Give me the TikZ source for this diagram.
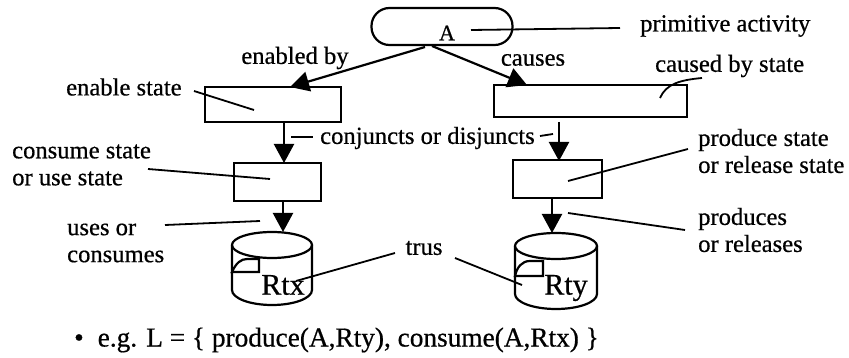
\documentclass[tikz,border=0pt]{standalone}
\usepackage{fontspec}
\setmainfont[FakeBold=0.6]{Liberation Serif}
\usetikzlibrary{arrows.meta}
\tikzset{
  lab/.style={font=\fontsize{24.6}{27}\selectfont, inner sep=0pt, align=left},
  statebox/.style={draw, line width=2.2pt, inner sep=0pt},
  link/.style={line width=2.2pt, -{Triangle[length=19pt,width=20pt]}},
  lead/.style={line width=1.8pt}
}
\begin{document}
\begin{tikzpicture}[x=1pt,y=-1pt]
      \useasboundingbox (0,0) rectangle (849,358);

      \node[draw, line width=2.2pt, rounded corners=18pt, minimum width=141pt, minimum height=37pt] (act) at (442,26.5) {};
      \node[lab, font=\fontsize{22}{24}\selectfont] (actname) at (447,33) {A};

      \node[statebox, minimum width=136pt, minimum height=35pt] (enable) at (273,104.5) {};
      \node[statebox, minimum width=193pt, minimum height=32pt] (caused) at (590.5,101) {};
      \node[statebox, minimum width=87pt, minimum height=38pt] (consume) at (277.5,182) {};
      \node[statebox, minimum width=89pt, minimum height=38pt] (produce) at (557.5,179) {};

      \foreach \x/\y/\r/\h in {272/245/40/45, 556/246/41/48} {
        \draw[line width=2.2pt] (\x,\y) ellipse [x radius=\r pt, y radius=13pt];
        \draw[line width=2.2pt] (\x-\r,\y) -- (\x-\r,\y+\h)
          arc [start angle=180, end angle=360, x radius=\r pt, y radius=15pt] -- (\x+\r,\y);
      }
      \node[lab, font=\fontsize{30}{32}\selectfont] (rtxname) at (283,285) {Rtx};
      \node[lab, font=\fontsize{30}{32}\selectfont] (rtyname) at (566,288) {Rty};

      \draw[line width=2.2pt] (232,272) .. controls (236,263) and (241,259) .. (247,259) -- (259,259) -- (259,272) -- cycle;
      \draw[line width=2.2pt] (515,276) .. controls (517,267) and (522,261) .. (530,261) -- (543,261) -- (543,276) -- cycle;

      \coordinate (actl) at (425,47);
      \coordinate (enablet) at (290,87);
      \coordinate (actr) at (432,46);
      \coordinate (causedt) at (527,85);
      \coordinate (causedb) at (559,122);
      \coordinate (producet) at (559,161);
      \coordinate (enableb) at (284,122);
      \coordinate (consumet) at (284,163);
      \coordinate (consumeb) at (283,201);
      \coordinate (rtxt) at (283,232);
      \coordinate (produceb) at (552,198);
      \coordinate (rtyt) at (552,233);

      \foreach \a/\b in {actl/enablet, actr/causedt, enableb/consumet, causedb/producet, consumeb/rtxt, produceb/rtyt}
        \draw[link] (\a) -- (\b);

      \node[lab, anchor=west] (labact) at (640,26) {primitive activity};
      \node[lab] (labenabled) at (295,58) {enabled by};
      \node[lab] (labcauses) at (533,60) {causes};
      \node[lab, anchor=west] (labcaused) at (655,66) {caused by state};
      \node[lab, anchor=west] (labenable) at (66,87) {enable state};
      \node[lab, anchor=west] (labconj) at (320,138) {conjuncts or disjuncts};
      \node[lab, anchor=west] (labconsume) at (12,165) {consume state\\or use state};
      \node[lab, anchor=west] (labuses) at (67,243) {uses or\\consumes};
      \node[lab] (labtrus) at (424,248) {trus};
      \node[lab, anchor=west] (labproduce) at (698,151) {produce state\\or release state};
      \node[lab, anchor=west] (labproduces) at (698,230) {produces\\or releases};
      \node[lab, anchor=west, font=\fontsize{27.3}{30}\selectfont] (labeg) at (74,340) {\textbullet\hspace{14pt}e.g. L = \{ produce(A,Rty), consume(A,Rtx) \}};

      \coordinate (c1) at (471,30);   \coordinate (c2) at (620,28);
      \coordinate (c3) at (194,91);   \coordinate (c4) at (254,110);
      \coordinate (c5) at (148,169);  \coordinate (c6) at (270,179);
      \coordinate (c7) at (165,225);  \coordinate (c8) at (260,221);
      \coordinate (c9) at (291,137);  \coordinate (c10) at (313,137);
      \coordinate (c11) at (540,136); \coordinate (c12) at (553,134);
      \coordinate (c13) at (688,149); \coordinate (c14) at (568,181);
      \coordinate (c15) at (568,213); \coordinate (c16) at (685,230);
      \coordinate (c17) at (395,253); \coordinate (c18) at (296,281);
      \coordinate (c19) at (455,258); \coordinate (c20) at (522,285);
      \coordinate (c21) at (702,78);  \coordinate (c22) at (660,98);

      \foreach \a/\b in {c1/c2, c3/c4, c5/c6, c7/c8, c9/c10, c11/c12, c13/c14, c15/c16, c17/c18, c19/c20}
        \draw[lead] (\a) -- (\b);
      \draw[lead] (c21) .. controls (680,80) and (666,84) .. (c22);
    \end{tikzpicture}
\end{document}
